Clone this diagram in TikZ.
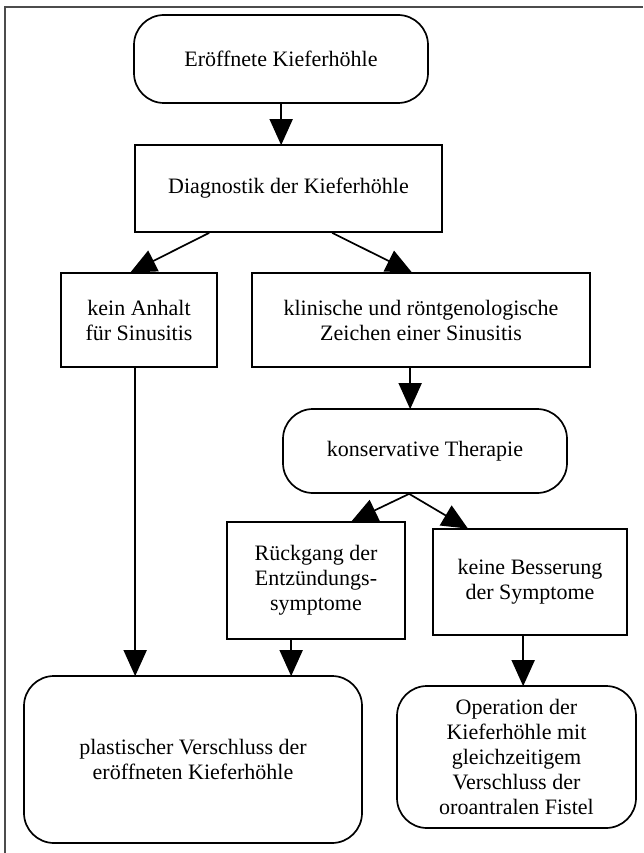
\documentclass[tikz,border=0pt]{standalone}
\usepackage{fontspec}
\setmainfont{Liberation Serif}
\usetikzlibrary{arrows.meta}
\begin{document}
\begin{tikzpicture}[x=1pt,y=-1pt,
  every node/.style={font=\fontsize{22}{25}\selectfont, align=center, inner sep=0pt},
  sqbox/.style={draw=black, line width=1.7pt, fill=white},
  rbox/.style={draw=black, line width=1.7pt, fill=white, rounded corners=30pt},
  arr/.style={draw=black, line width=1.7pt, -{Triangle[length=26pt,width=23pt]}, shorten >=-1pt},
  frameline/.style={draw=black!70, line width=1.2pt}]
\useasboundingbox (0,0) rectangle (643,853);
\draw[frameline] (5,853) -- (5,7) -- (643,7);

\node[rbox, minimum width=294pt, minimum height=88pt] (b1) at (281,59) {Eröffnete Kieferhöhle};
\node[sqbox, minimum width=307pt, minimum height=87pt] (b2) at (288.5,188.5) {Diagnostik der Kieferhöhle};
\node[sqbox, minimum width=156pt, minimum height=94pt] (b3) at (139,320) {kein Anhalt\\für Sinusitis};
\node[sqbox, minimum width=338pt, minimum height=94pt] (b4) at (421,320) {klinische und röntgenologische\\Zeichen einer Sinusitis};
\node[rbox, minimum width=284pt, minimum height=84pt] (b5) at (425,451) {konservative Therapie};
\node[sqbox, minimum width=178pt, minimum height=117pt] (b6) at (316,580.5) {Rückgang der\\Entzündungs-\\symptome};
\node[sqbox, minimum width=194pt, minimum height=106pt] (b7) at (530,582) {keine Besserung\\der Symptome};
\node[rbox, minimum width=338pt, minimum height=167pt] (b8) at (193,759.5) {plastischer Verschluss der\\eröffneten Kieferhöhle};
\node[rbox, minimum width=239pt, minimum height=142pt] (b9) at (516.5,757) {Operation der\\Kieferhöhle mit\\gleichzeitigem\\Verschluss der\\oroantralen Fistel};

\draw[arr] ([xshift=148pt]b1.south west) -- ([xshift=147pt]b2.north west);
\draw[arr] ([xshift=75pt]b2.south west) -- ([xshift=71pt]b3.north west);
\draw[arr] ([xshift=198pt]b2.south west) -- ([xshift=160pt]b4.north west);
\draw[arr] ([xshift=75pt]b3.south west) -- ([xshift=112pt]b8.north west);
\draw[arr] ([xshift=159pt]b4.south west) -- ([xshift=128pt]b5.north west);
\draw[arr] ([xshift=127pt]b5.south west) -- ([xshift=126pt]b6.north west);
\draw[arr] ([xshift=127pt]b5.south west) -- ([xshift=35pt]b7.north west);
\draw[arr] ([xshift=65pt]b6.south west) -- ([xshift=268pt]b8.north west);
\draw[arr] ([xshift=91pt]b7.south west) -- ([xshift=127pt]b9.north west);
\end{tikzpicture}
\end{document}
